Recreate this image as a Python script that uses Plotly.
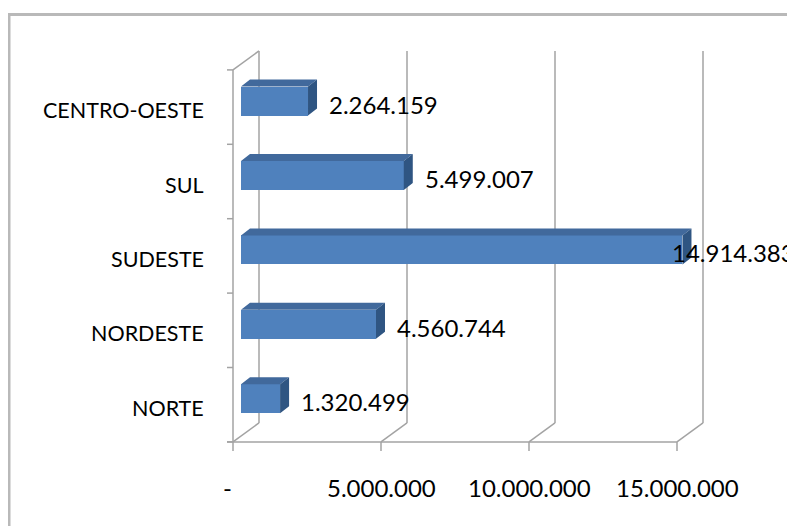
import plotly.graph_objects as go

# ---------------- data ----------------
REGIONS = ["NORTE", "NORDESTE", "SUDESTE", "SUL", "CENTRO-OESTE"]
POPULATION = [1320499, 4560744, 14914383, 5499007, 2264159]
TICK_VALUES = [0, 5_000_000, 10_000_000, 15_000_000]
TICK_LABELS = ["-", "5.000.000", "10.000.000", "15.000.000"]

# ---------------- geometry / style ----------------
PAGE = 8                 # the page body margin that shifts the figure
W, H = 795 - PAGE, 526 - PAGE
X0_PX = 241.0 - PAGE     # pixel of value 0 on the bar front face
PXX = 29.6 / 1e6         # pixels per unit of value
Y0_PX = 398.7 - PAGE     # pixel of first bar centre
PXC = 74.4               # pixels per category band
BAR_THICK_PX = 29.0
BAR_DEPTH = (9.0, -7.0)      # px offset of bar back face
FRONT_OFF = (-8.0, 6.0)      # front plane relative to bar front face
BACK_OFF = (18.0, -13.0)     # back wall relative to bar front face

FONT = "Lato"
CAT_SIZE = 21.5
NUM_SIZE = 24
GRID = "#a3a3a3"
FRONT_COL = "#4F81BD"
TOP_COL = "#41699C"
SIDE_COL = "#2F5582"

n = len(REGIONS)
pos = list(range(n))
xr = [(0 - X0_PX) / PXX, (W - X0_PX) / PXX]
yr = [(Y0_PX - H) / PXC, Y0_PX / PXC]


def shift(x, y, off):
    return x + off[0] / PXX, y - off[1] / PXC


def fmt(v):
    return f"{v:,}".replace(",", ".")


fig = go.Figure()

# front faces of the bars
half = BAR_THICK_PX / PXC / 2
fig.add_trace(go.Bar(x=POPULATION, y=pos, orientation="h", width=2 * half,
                     marker=dict(color=FRONT_COL, line=dict(width=0)),
                     hoverinfo="skip", showlegend=False))

# top and side faces
tx, ty, sx, sy = [], [], [], []
for v, p in zip(POPULATION, pos):
    a = (0, p + half)
    b = (v, p + half)
    c = shift(v, p + half, BAR_DEPTH)
    d = shift(0, p + half, BAR_DEPTH)
    for pt in (a, b, c, d, a):
        tx.append(pt[0]); ty.append(pt[1])
    tx.append(None); ty.append(None)
    e = (v, p - half)
    f = shift(v, p - half, BAR_DEPTH)
    for pt in (e, b, c, f, e):
        sx.append(pt[0]); sy.append(pt[1])
    sx.append(None); sy.append(None)
fig.add_trace(go.Scatter(x=tx, y=ty, fill="toself", fillcolor=TOP_COL, mode="lines",
                         line=dict(width=0, color=TOP_COL), hoverinfo="skip", showlegend=False))
fig.add_trace(go.Scatter(x=sx, y=sy, fill="toself", fillcolor=SIDE_COL, mode="lines",
                         line=dict(width=0, color=SIDE_COL), hoverinfo="skip", showlegend=False))

# ---------------- frame ----------------
shapes = []


def line(p0, p1, width=1.5):
    shapes.append(dict(type="line", xref="x", yref="y", x0=p0[0], y0=p0[1],
                       x1=p1[0], y1=p1[1], line=dict(color=GRID, width=width), layer="below"))


bottom = -0.5
top = n - 0.5
# left wall front edge and category ticks
line(shift(0, bottom, FRONT_OFF), shift(0, top, FRONT_OFF))
for j in range(n + 1):
    fp = shift(0, j - 0.5, FRONT_OFF)
    line(shift(fp[0], fp[1], (-6, 0)), fp)
line(shift(0, top, FRONT_OFF), shift(0, top, BACK_OFF))
# back wall gridlines, floor diagonals, floor front line, value ticks
for v in TICK_VALUES:
    line(shift(v, bottom, BACK_OFF), shift(v, top, BACK_OFF))
    line(shift(v, bottom, FRONT_OFF), shift(v, bottom, BACK_OFF))
    fp = shift(v, bottom, FRONT_OFF)
    line(fp, shift(fp[0], fp[1], (0, 9)))
fp0 = shift(0, bottom, FRONT_OFF)
line(shift(fp0[0], fp0[1], (-6, 0)), shift(max(TICK_VALUES), bottom, FRONT_OFF))

# outer chart border
shapes.append(dict(type="rect", xref="paper", yref="paper", x0=1.0 / W, x1=1.05,
                   y0=-0.05, y1=1 - 6.5 / H, line=dict(color="#b9b9b9", width=3),
                   layer="below"))

# ---------------- text ----------------
annotations = []
for name, p in zip(REGIONS, pos):
    x, y = shift(0, p, (-35, 0))
    annotations.append(dict(x=x, y=y, xref="x", yref="y", text=name, showarrow=False,
                            xanchor="right", yanchor="middle", yshift=-9,
                            font=dict(family=FONT, size=CAT_SIZE, color="#000000")))


def text_width(s, size):
    return sum(0.26 * size if ch == "." else 0.58 * size for ch in s)


for v, p in zip(POPULATION, pos):
    label = fmt(v)
    left_px = X0_PX + v * PXX + BAR_DEPTH[0] + 10
    wpx = text_width(label, NUM_SIZE)
    if left_px + wpx > W - 1:
        left_px = W - 1 - wpx
    annotations.append(dict(x=(left_px - X0_PX) / PXX, y=p, xref="x", yref="y", text=label,
                            showarrow=False, xanchor="left", yanchor="middle", yshift=-3,
                            font=dict(family=FONT, size=NUM_SIZE, color="#000000")))

for v, lab in zip(TICK_VALUES, TICK_LABELS):
    x, y = shift(v, bottom, FRONT_OFF)
    annotations.append(dict(x=x, y=y, xref="x", yref="y", text=lab, showarrow=False,
                            xanchor="center", yanchor="middle", yshift=-46,
                            xshift=-6 if lab == "-" else 0,
                            font=dict(family=FONT, size=NUM_SIZE, color="#000000")))

fig.update_layout(
    width=W, height=H, margin=dict(l=0, r=0, t=0, b=0, pad=0),
    paper_bgcolor="white", plot_bgcolor="white",
    xaxis=dict(range=xr, showgrid=False, zeroline=False, showticklabels=False,
               showline=False, fixedrange=True),
    yaxis=dict(range=yr, showgrid=False, zeroline=False, showticklabels=False,
               showline=False, fixedrange=True),
    shapes=shapes, annotations=annotations, bargap=0,
)
fig.write_html("out.html")
